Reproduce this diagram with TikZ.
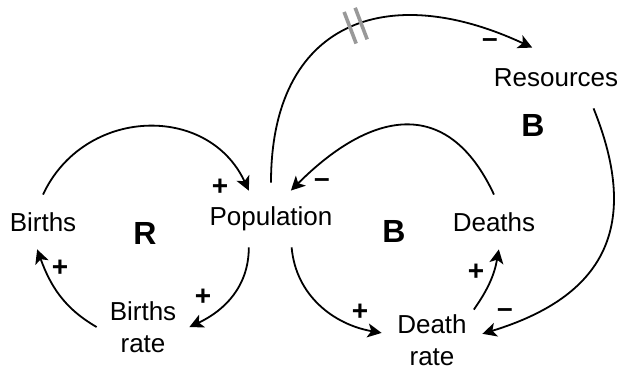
\documentclass[tikz,border=0pt]{standalone}
\usepackage{fontspec}
\setmainfont{Liberation Sans}
\usetikzlibrary{arrows.meta}

\begin{document}
\begin{tikzpicture}[x=0.5pt,y=0.5pt,
var/.style={inner sep=0pt,align=center,font=\fontsize{13}{16}\selectfont,minimum height=27pt},
loopname/.style={font=\fontsize{16}{18}\selectfont\bfseries},
sign/.style={font=\fontsize{14}{16}\selectfont\bfseries,inner sep=0pt},
link/.style={-{Stealth[length=7pt,width=7pt,inset=1.8pt]},line width=0.9pt},
delay/.style={sloped,inner sep=0pt,minimum width=5pt,minimum height=16pt},
delaymark/.style={draw=black!40,line width=1.8pt}]
\useasboundingbox (0,0) rectangle (622,-370);
\node[var,minimum width=36pt] (births) at (43,-222) {Births};
\node[var,minimum width=72pt,minimum height=28pt] (pop) at (271,-219) {Population};
\node[var,minimum width=46pt,minimum height=30pt] (brate) at (143,-327) {Births\\rate};
\node[var,minimum width=68pt,minimum height=30pt] (res) at (556,-78) {Resources};
\node[var,minimum width=44pt] (deaths) at (494,-222) {Deaths};
\node[var,minimum width=50pt,minimum height=30pt] (drate) at (432,-340) {Death\\rate};
\node[loopname] (loopr) at (145,-233) {R};
\node[loopname] (loopb) at (394,-231) {B};
\node[loopname] (loopbr) at (533,-125) {B};
\draw[link] (births.north) to[out=65,in=115,looseness=1.2] (pop.128);
\draw[link] (pop.232) to[out=-90,in=25] (brate.east);
\draw[link] (brate.west) to[out=150,in=-70] (births.258);
\draw[link] ([yshift=4pt]pop.north) to[out=90,in=155,looseness=1.4] node[delay,pos=0.53] (dly) {} (res.128);
\draw[delaymark] (dly.north west) -- (dly.south west) (dly.north east) -- (dly.south east);
\draw[link] (deaths.north) to[out=115,in=45,looseness=1.4] (pop.55);
\draw[link] (pop.-54) to[out=-85,in=170] (drate.172);
\draw[link] (drate.36) to[out=55,in=-100] (deaths.-80);
\draw[link] (res.-39) to[out=-68,in=17,looseness=1.3] (drate.7);
\node[sign] (s1) at (220,-187) {+};
\node[sign] (s2) at (203,-297) {+};
\node[sign] (s3) at (60,-268) {+};
\node[sign] (s4) at (490,-43) {--};
\node[sign] (s5) at (322,-183) {--};
\node[sign] (s6) at (360,-312) {+};
\node[sign] (s7) at (476,-272) {+};
\node[sign] (s8) at (505,-313) {--};
\end{tikzpicture}
\end{document}
